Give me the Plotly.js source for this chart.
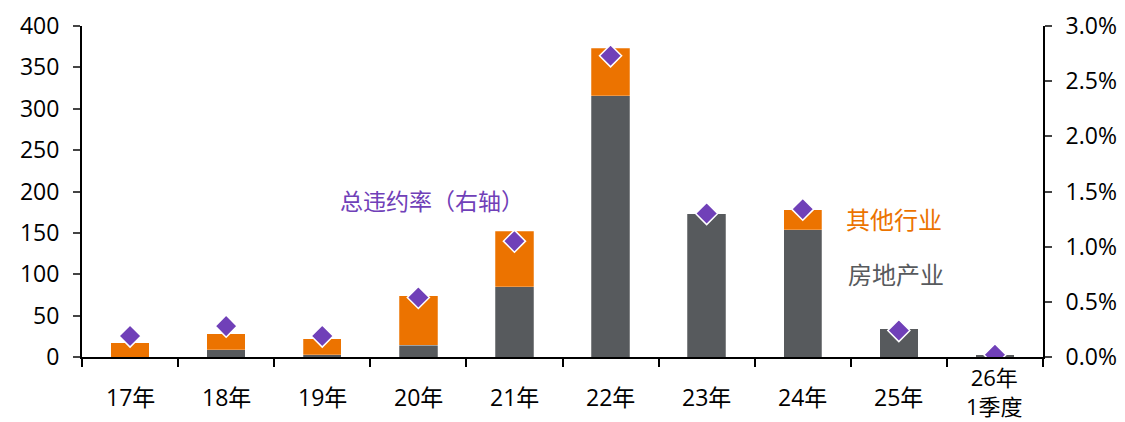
<!DOCTYPE html>
<html>
<head>
<meta charset="utf-8">
<script src="https://cdn.plot.ly/plotly-3.0.1.min.js"></script>
<style>html,body{margin:0;padding:0;background:#fff;}#chart{width:1125px;height:422px;}</style>
</head>
<body>
<div id="chart"></div>
<script>
const categories = ["17年","18年","19年","20年","21年","22年","23年","24年","25年","26年<br>1季度"];
const realEstate = [0, 9, 3, 14, 85, 316, 173, 154, 34, 3];
const otherIndustries = [17, 19, 19, 60, 67, 57, 0, 24, 0, 0];
const defaultRate = [0.0019, 0.0028, 0.0019, 0.0054, 0.0105, 0.0273, 0.0130, 0.0134, 0.0024, 0.0002];
const leftTicks = [0,50,100,150,200,250,300,350,400];
const rightTicks = [0,0.005,0.01,0.015,0.02,0.025,0.03];

const font = "'Open Sans', 'Noto Sans CJK SC', sans-serif";
const cjk = "'Noto Sans CJK SC', sans-serif";
const traces = [
  {type:'bar', name:'房地产业', x:categories, y:realEstate, marker:{color:'#575A5D', line:{color:'rgba(255,255,255,0.5)', width:0.5}}, width:0.4},
  {type:'bar', name:'其他行业', x:categories, y:otherIndustries, marker:{color:'#EC7300', line:{color:'rgba(255,255,255,0.5)', width:0.5}}, width:0.4},
  {type:'scatter', mode:'markers', name:'总违约率（右轴）', x:categories, y:defaultRate, yaxis:'y2',
   marker:{symbol:'diamond', size:17, color:'#7040B8', line:{color:'#ffffff', width:1.5}}}
];
const xLabelAnnotations = categories.map(c => {
  const twoLine = c.indexOf('<br>') >= 0;
  return {
    text:c, xref:'x', yref:'paper', x:c, y:(twoLine ? -35 : -40)/331, showarrow:false, xanchor:'center', yanchor:'middle',
    font:{size:twoLine ? 22 : 23, color:'#000', family:font}
  };
});
const layout = {
  width:1125, height:422,
  margin:{l:82, r:82, t:26, b:65},
  barmode:'stack',
  showlegend:false,
  paper_bgcolor:'#fff', plot_bgcolor:'#fff',
  font:{family:font, size:23, color:'#000'},
  xaxis:{type:'category', range:[-0.5, 9.5], showline:true, linecolor:'#000', linewidth:2, ticks:'outside', tickson:'boundaries', ticklen:8, tickwidth:2, tickcolor:'#000', showgrid:false, showticklabels:false, fixedrange:true},
  yaxis:{range:[0,400], tickvals:leftTicks, showline:true, linecolor:'#000', linewidth:2, ticks:'outside', ticklen:7, tickwidth:2, showgrid:false, zeroline:false, tickfont:{size:23, family:font}, ticklabelstandoff:9},
  yaxis2:{range:[0,0.03], tickvals:rightTicks, tickformat:'.1%', overlaying:'y', side:'right', showline:true, linecolor:'#000', linewidth:2, ticks:'outside', ticklen:7, tickwidth:2, showgrid:false, zeroline:false, tickfont:{size:23, family:font}, ticklabelstandoff:9},
  annotations:[
    {text:'总违约率（右轴）', xref:'paper', yref:'paper', x:(432-82)/961, y:(357-200)/331, showarrow:false, xanchor:'center', yanchor:'middle', font:{size:23, color:'#7040B8', family:cjk}},
    {text:'其他行业', xref:'paper', yref:'paper', x:(894-82)/961, y:(357-219)/331, showarrow:false, xanchor:'center', yanchor:'middle', font:{size:24, color:'#EC7300', family:cjk}},
    {text:'房地产业', xref:'paper', yref:'paper', x:(896-82)/961, y:(357-273)/331, showarrow:false, xanchor:'center', yanchor:'middle', font:{size:24, color:'#575A5D', family:cjk}}
  ].concat(xLabelAnnotations)
};
Plotly.newPlot('chart', traces, layout, {staticPlot:true, displayModeBar:false});
</script>
</body>
</html>
